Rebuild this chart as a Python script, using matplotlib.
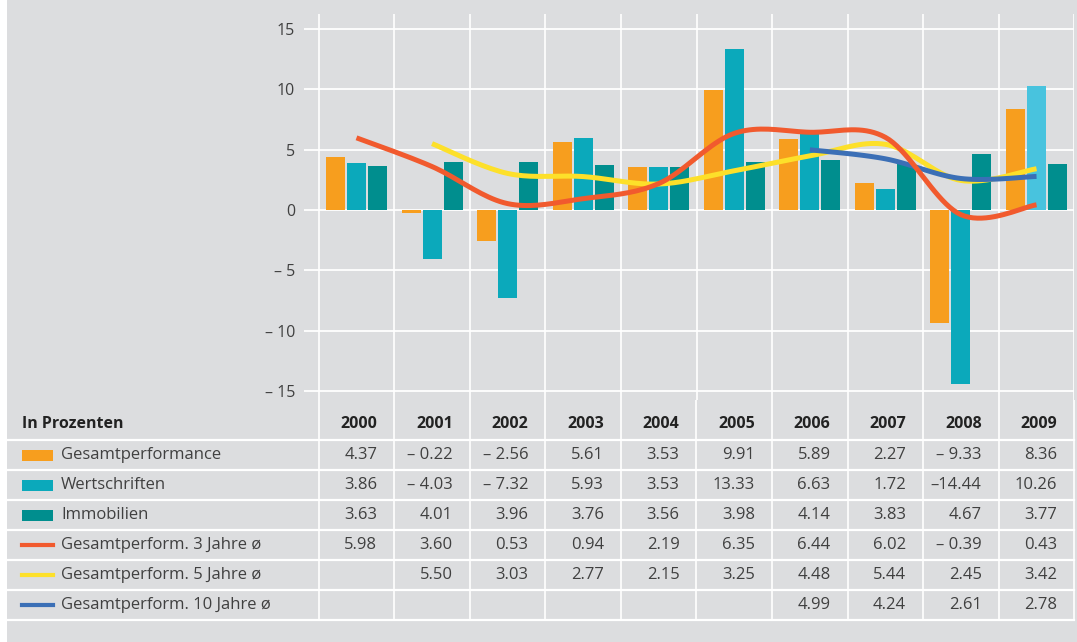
import numpy as np
import matplotlib
matplotlib.use("Agg")
import matplotlib.pyplot as plt

plt.rcParams['font.family'] = ['Open Sans', 'DejaVu Sans']

# data
years = ['2000', '2001', '2002', '2003', '2004', '2005', '2006', '2007', '2008', '2009']
gesamt = [4.37, -0.22, -2.56, 5.61, 3.53, 9.91, 5.89, 2.27, -9.33, 8.36]
wertschriften = [3.86, -4.03, -7.32, 5.93, 3.53, 13.33, 6.63, 1.72, -14.44, 10.26]
immobilien = [3.63, 4.01, 3.96, 3.76, 3.56, 3.98, 4.14, 3.83, 4.67, 3.77]
avg3 = [5.98, 3.60, 0.53, 0.94, 2.19, 6.35, 6.44, 6.02, -0.39, 0.43]
avg5 = [None, 5.50, 3.03, 2.77, 2.15, 3.25, 4.48, 5.44, 2.45, 3.42]
avg10 = [None, None, None, None, None, None, 4.99, 4.24, 2.61, 2.78]
row_labels = ['Gesamtperformance', 'Wertschriften', 'Immobilien',
              'Gesamtperform. 3 Jahre ø', 'Gesamtperform. 5 Jahre ø',
              'Gesamtperform. 10 Jahre ø']
yticks = [-15, -10, -5, 0, 5, 10, 15]

BG = '#dcdddf'
C_ORANGE = '#f79e1e'
C_CYAN = '#0ba9bb'
C_CYAN_HI = '#48c3de'
C_TEAL = '#008e8e'
C_RED = '#f15a2e'
C_YELLOW = '#fde02a'
C_BLUE = '#3b6fb6'
TXT = '#404040'

W, H = 1077, 642
fig = plt.figure(figsize=(W / 100, H / 100), dpi=100, facecolor='white')
bg = fig.add_axes([7 / W, 0, 1 - 7 / W, 1])
bg.set_facecolor(BG)
bg.set_axis_off()
bg.add_patch(plt.Rectangle((0, 0), 1, 1, transform=bg.transAxes, color=BG, zorder=0))

col_w = 75.56
x0_px = 318.7


def px_axes(left, top, right, bottom):
    return fig.add_axes([left / W, 1 - bottom / H, (right - left) / W, (bottom - top) / H])


def smooth(xs, ys, n=20):
    # Catmull-Rom spline through the points
    pts = np.array(list(zip(xs, ys)), dtype=float)
    p = np.vstack([pts[0], pts, pts[-1]])
    out = []
    for i in range(1, len(p) - 2):
        p0, p1, p2, p3 = p[i - 1], p[i], p[i + 1], p[i + 2]
        for t in np.linspace(0, 1, n, endpoint=False):
            t2, t3 = t * t, t * t * t
            out.append(0.5 * ((2 * p1) + (-p0 + p2) * t + (2 * p0 - 5 * p1 + 4 * p2 - p3) * t2
                              + (-p0 + 3 * p1 - 3 * p2 + p3) * t3))
    out.append(p[-2])
    out = np.array(out)
    return out[:, 0], out[:, 1]


# main chart
ax = px_axes(304, 14, 1074.3, 400)
ax.set_facecolor('none')
ax.set_xlim(-(x0_px - 304) / col_w, 10)
ax.set_ylim(-(400 - 210) / 12.07, (210 - 14) / 12.07)
for s in ax.spines.values():
    s.set_visible(False)
ax.set_xticks([])
ax.set_yticks(yticks)
ax.set_yticklabels([str(v) if v >= 0 else '– ' + str(abs(v)) for v in yticks],
                   fontsize=11.5, color=TXT)
ax.tick_params(axis='y', length=0, pad=6.5)
for v in yticks:
    ax.axhline(v, color='white', lw=1.3, zorder=1)
for i in range(11):
    ax.axvline(i, color='white', lw=1.2, zorder=1)

x = np.arange(len(years)) + 0.5
bw = 19 / col_w
step = 21 / col_w
ax.bar(x - step, gesamt, bw, color=C_ORANGE, zorder=2)
cyan_cols = [C_CYAN] * (len(years) - 1) + [C_CYAN_HI]
ax.bar(x, wertschriften, bw, color=cyan_cols, zorder=2)
ax.bar(x + step, immobilien, bw, color=C_TEAL, zorder=2)

for series, color, z in [(avg5, C_YELLOW, 3), (avg10, C_BLUE, 4), (avg3, C_RED, 5)]:
    xs = [xi for xi, v in zip(x, series) if v is not None]
    ys = [v for v in series if v is not None]
    sx, sy = smooth(xs, ys)
    ax.plot(sx, sy, color=color, lw=3.6, zorder=z, solid_capstyle='butt')

# table
tb = px_axes(7, 400, W, H)
tb.set_facecolor('none')
tb.set_axis_off()
tb.set_xlim(-(x0_px - 7) / col_w, 10 + (W - 1074.3) / col_w)
tb.set_ylim(242 / 30, 0)
left = -(x0_px - 7) / col_w
for i in range(11):
    tb.plot([i, i], [0, 220 / 30], color='white', lw=1.2)
for r in range(7):
    yy = 40 / 30 + r
    tb.plot([left, 10], [yy, yy], color='white', lw=1.6)

lab_x = -(x0_px - 22) / col_w
tb.text(lab_x, 0.8, 'In Prozenten', fontsize=11.5, fontweight='bold', color='#222222',
        va='center', ha='left')
for i, y in enumerate(years):
    tb.text(i + 1 - 17 / col_w, 0.8, y, fontsize=11.5, fontweight='bold', color='#222222',
            va='center', ha='right')


def fmt(v):
    if v is None:
        return ''
    if v < 0:
        return ('–' if v <= -10 else '– ') + f'{abs(v):.2f}'
    return f'{v:.2f}'


rows = [gesamt, wertschriften, immobilien, avg3, avg5, avg10]
sw_colors = [C_ORANGE, C_CYAN, C_TEAL, C_RED, C_YELLOW, C_BLUE]
sw_x0 = -(x0_px - 22) / col_w
sw_x1 = -(x0_px - 53) / col_w
for r, (vals, lab, col) in enumerate(zip(rows, row_labels, sw_colors)):
    yc = 40 / 30 + r + 0.5
    if r < 3:
        tb.add_patch(plt.Rectangle((sw_x0, yc - 5.5 / 30), sw_x1 - sw_x0, 11 / 30, color=col, lw=0))
    else:
        tb.plot([sw_x0, sw_x1], [yc, yc], color=col, lw=3)
    tb.text(-(x0_px - 61) / col_w, yc, lab, fontsize=12, color=TXT, va='center', ha='left')
    for i, v in enumerate(vals):
        tb.text(i + 1 - 17 / col_w, yc, fmt(v), fontsize=12, color=TXT,
                va='center', ha='right')

fig.savefig('out.png', dpi=100, facecolor='white')
